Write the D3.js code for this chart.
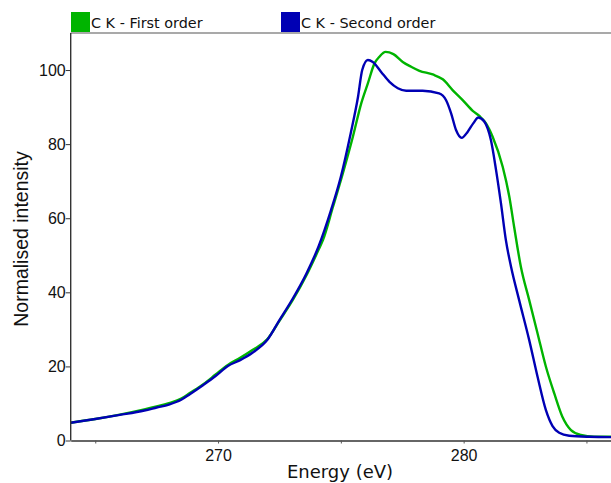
<!DOCTYPE html>
<html>
<head>
<meta charset="utf-8">
<script src="https://cdn.jsdelivr.net/npm/d3@7"></script>
<style>
  html, body { margin: 0; padding: 0; background: #fff; }
  svg { display: block; }
</style>
</head>
<body>
<div id="chart"></div>
<script>
// C K edge spectra, energy (eV) vs normalised intensity
const firstEnergy = [264.0, 265.0, 266.0, 267.0, 267.5, 268.0, 268.5, 268.85, 269.4, 269.9, 270.4, 270.9, 271.4, 272.0, 272.5, 273.05, 273.6, 274.1, 274.27, 274.68, 275.08, 275.49, 275.83, 276.1, 276.37, 276.57, 276.82, 277.14, 277.52, 277.86, 278.2, 278.74, 279.15, 279.55, 279.96, 280.37, 280.64, 280.91, 281.18, 281.59, 281.86, 282.06, 282.33, 282.67, 283.01, 283.35, 283.69, 284.02, 284.37, 284.77, 285.31, 286.0];
const firstIntensity = [4.8, 5.8, 7.0, 8.4, 9.2, 10.1, 11.3, 12.8, 15.2, 17.8, 20.4, 22.3, 24.4, 27.3, 32.3, 38.0, 44.6, 51.6, 54.1, 63.1, 72.1, 82.0, 91.0, 96.4, 101.8, 103.6, 104.9, 104.3, 102.2, 100.9, 99.8, 98.8, 97.5, 94.6, 91.9, 89.0, 87.6, 85.6, 82.0, 73.9, 65.8, 57.5, 46.9, 37.9, 28.9, 19.9, 12.7, 6.4, 2.8, 1.5, 1.0, 1.0];

const secondEnergy = [264.0, 265.0, 266.0, 267.0, 267.5, 268.0, 268.5, 268.85, 269.4, 269.9, 270.4, 270.9, 271.4, 272.0, 272.5, 273.05, 273.6, 274.1, 274.6, 275.0, 275.4, 275.7, 275.87, 276.1, 276.3, 276.64, 276.98, 277.32, 277.66, 278.33, 279.0, 279.28, 279.49, 279.69, 279.92, 280.16, 280.39, 280.6, 280.84, 281.11, 281.32, 281.52, 281.72, 281.93, 282.26, 282.67, 283.01, 283.35, 283.62, 283.89, 284.3, 285.11, 286.0];
const secondIntensity = [4.8, 5.8, 6.9, 8.1, 8.9, 9.7, 11.0, 12.5, 15.0, 17.4, 20.1, 21.7, 23.7, 27.1, 32.5, 38.4, 45.1, 52.5, 62.2, 71.2, 82.9, 92.8, 100.0, 102.7, 102.2, 99.5, 96.8, 95.1, 94.4, 94.4, 93.7, 91.9, 88.3, 83.8, 81.7, 83.3, 85.6, 87.2, 86.1, 81.1, 73.0, 64.0, 54.1, 46.9, 37.9, 27.1, 17.2, 8.2, 3.9, 2.1, 1.3, 1.0, 0.9];

const seriesNames = ['C K - First order', 'C K - Second order'];
const seriesColors = ['#00b400', '#0000b4'];
const xTicks = [265, 270, 275, 280, 285];
const xLabels = [270, 280];
const yTicks = [0, 20, 40, 60, 80, 100];

const width = 611, height = 483;
const margin = { top: 33, right: 0, bottom: 42.5, left: 70.7 };

const svg = d3.select('#chart').append('svg')
  .attr('width', width).attr('height', height);

const x = d3.scaleLinear().domain([264, 286]).range([margin.left, width - margin.right]);
const y = d3.scaleLinear().domain([0, 110]).range([height - margin.bottom, margin.top]);

const series = [
  { name: seriesNames[0], color: seriesColors[0], values: firstEnergy.map((e, i) => [e, firstIntensity[i]]) },
  { name: seriesNames[1], color: seriesColors[1], values: secondEnergy.map((e, i) => [e, secondIntensity[i]]) }
];

svg.append('defs').append('clipPath').attr('id', 'plot-clip')
  .append('rect')
  .attr('x', margin.left).attr('y', margin.top)
  .attr('width', width - margin.left).attr('height', height - margin.bottom - margin.top);

const line = d3.line().x(d => x(d[0])).y(d => y(d[1])).curve(d3.curveMonotoneX);

svg.append('g').attr('clip-path', 'url(#plot-clip)')
  .selectAll('path')
  .data(series)
  .join('path')
  .attr('d', d => line(d.values))
  .attr('fill', 'none')
  .attr('stroke', d => d.color)
  .attr('stroke-width', 2.4)
  .attr('stroke-linejoin', 'round');

// top frame line
svg.append('line')
  .attr('x1', margin.left).attr('x2', width)
  .attr('y1', margin.top).attr('y2', margin.top)
  .attr('stroke', '#555').attr('stroke-width', 1.2);

// x axis
const xAxis = svg.append('g')
  .attr('transform', `translate(0,${y(0)})`)
  .call(d3.axisBottom(x).tickValues(xTicks).tickSize(3).tickSizeOuter(0)
    .tickFormat(d => xLabels.includes(d) ? d : ''));
xAxis.select('.domain').attr('stroke', '#333').attr('stroke-width', 1.4);
xAxis.selectAll('.tick line').attr('stroke', '#555');
xAxis.selectAll('.tick text')
  .attr('font-family', 'Liberation Sans, Arial, sans-serif')
  .attr('font-size', 16).attr('fill', '#111').attr('dy', '0.9em');

// y axis
const yAxis = svg.append('g')
  .attr('transform', `translate(${margin.left},0)`)
  .call(d3.axisLeft(y).tickValues(yTicks).tickSize(5).tickSizeOuter(0));
yAxis.select('.domain').attr('stroke', '#333').attr('stroke-width', 1.4)
  .attr('d', `M0,${y(0)}V${margin.top}`);
yAxis.selectAll('.tick line').attr('stroke', '#333');
yAxis.selectAll('.tick text')
  .attr('font-family', 'Liberation Sans, Arial, sans-serif')
  .attr('font-size', 16).attr('fill', '#111').attr('x', -5);

// axis titles
svg.append('text')
  .attr('x', 340).attr('y', 478)
  .attr('text-anchor', 'middle')
  .attr('font-family', 'DejaVu Sans, Verdana, sans-serif')
  .attr('font-size', 18).attr('fill', '#111')
  .text('Energy (eV)');

svg.append('text')
  .attr('transform', 'translate(28,239) rotate(-90)')
  .attr('text-anchor', 'middle')
  .attr('font-family', 'Liberation Sans, Arial, sans-serif')
  .attr('font-size', 19.5).attr('fill', '#111')
  .text('Normalised intensity');

// legend
const legendX = [71, 281];
const legend = svg.append('g').selectAll('g')
  .data(series)
  .join('g')
  .attr('transform', (d, i) => `translate(${legendX[i]},12)`);
legend.append('rect')
  .attr('width', 19).attr('height', 20)
  .attr('fill', d => d.color);
legend.append('text')
  .attr('x', 20).attr('y', 15.5)
  .attr('font-family', 'DejaVu Sans, Verdana, sans-serif')
  .attr('font-size', 14.4).attr('fill', '#111')
  .text(d => d.name);
</script>
</body>
</html>
